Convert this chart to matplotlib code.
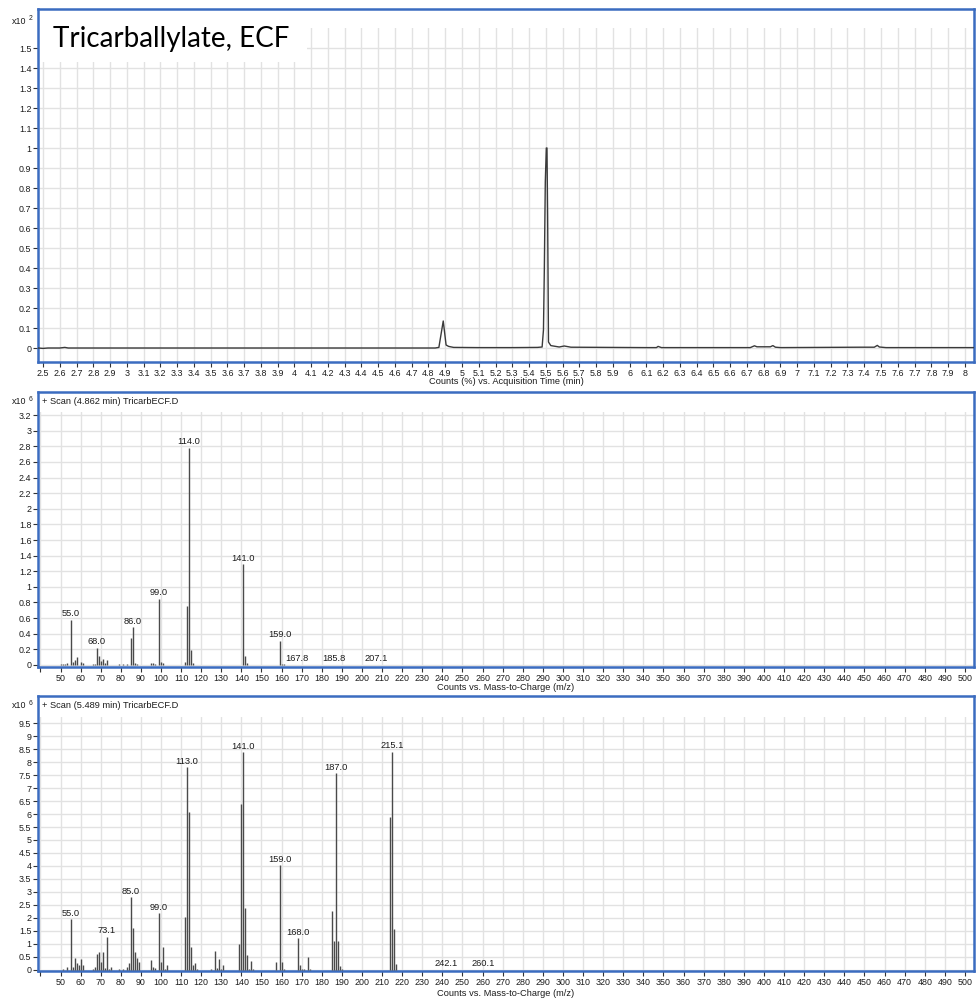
import matplotlib
matplotlib.use('Agg')
import matplotlib.pyplot as plt
from matplotlib import font_manager
from matplotlib.patches import Rectangle

# ── DATA ────────────────────────────────────────
# total ion chromatogram, counts (%) x10^2
tic_time = [2.47, 2.50, 2.53, 2.60, 2.63, 2.65, 4.84, 4.862, 4.888, 4.905,
            4.92, 4.95, 5.10, 5.30, 5.45, 5.478, 5.486, 5.491, 5.497, 5.503,
            5.507, 5.511, 5.516, 5.53, 5.58, 5.61, 5.65, 6.10, 6.16, 6.17,
            6.19, 6.72, 6.745, 6.76, 6.84, 6.855, 6.87, 6.90, 7.38, 7.46,
            7.478, 7.49, 7.53, 8.055]
tic_counts = [0.0, -0.002, 0.0, 0.0, 0.003, 0.0, 0.0, 0.003, 0.135, 0.015,
              0.008, 0.003, 0.002, 0.002, 0.003, 0.005, 0.09, 0.38, 0.83, 1.0,
              1.0, 0.65, 0.03, 0.012, 0.005, 0.01, 0.004, 0.002, 0.002, 0.008,
              0.002, 0.002, 0.011, 0.006, 0.006, 0.012, 0.004, 0.002, 0.004, 0.004,
              0.013, 0.005, 0.002, 0.002]

# scan at 4.862 min, counts x10^6
scan1_mz = [50, 51, 52, 53, 55.0, 56, 57, 58, 60, 61,
            66, 67, 68.0, 69, 70, 71, 72, 73, 79, 81,
            83, 85, 86.0, 87, 88, 95, 96, 97, 99.0, 100,
            101, 112, 113, 114.0, 115, 116, 141.0, 142, 143, 159.0,
            160, 161, 167.8, 185.8, 207.1]
scan1_counts = [0.01, 0.01, 0.01, 0.03, 0.58, 0.04, 0.07, 0.10, 0.04, 0.02,
                0.01, 0.01, 0.22, 0.12, 0.05, 0.08, 0.03, 0.07, 0.01, 0.01,
                0.01, 0.35, 0.48, 0.03, 0.01, 0.02, 0.02, 0.01, 0.85, 0.04,
                0.02, 0.04, 0.75, 2.78, 0.19, 0.02, 1.29, 0.12, 0.02, 0.31,
                0.01, 0.01, 0.005, 0.004, 0.004]
scan1_labels = [55.0, 68.0, 86.0, 99.0, 114.0, 141.0, 159.0, 167.8, 185.8, 207.1]

# scan at 5.489 min, counts x10^6
scan2_mz = [51, 53, 55.0, 56, 57, 58, 59, 60, 61, 66,
            67, 68, 69, 70, 71, 72, 73.1, 74, 75, 79,
            81, 83, 84, 85.0, 86, 87, 88, 89, 95, 96,
            97, 99.0, 100, 101, 102, 103, 112, 113.0, 114, 115,
            116, 117, 118, 125, 127.0, 128, 129, 130, 131, 139,
            140, 141.0, 142, 143, 144, 145, 146, 157, 159.0, 160,
            161, 168.0, 169, 170, 171, 173, 174, 185, 186, 187.0,
            188, 189, 190, 214, 215.1, 216, 217, 242.1, 260.1]
scan2_counts = [0.05, 0.10, 1.95, 0.10, 0.45, 0.25, 0.20, 0.41, 0.20, 0.03,
                0.10, 0.60, 0.70, 0.30, 0.68, 0.08, 1.28, 0.05, 0.10, 0.03,
                0.05, 0.10, 0.25, 2.81, 1.60, 0.68, 0.45, 0.30, 0.38, 0.10,
                0.08, 2.18, 0.30, 0.90, 0.05, 0.18, 2.05, 7.79, 6.07, 0.87,
                0.19, 0.28, 0.03, 0.02, 0.73, 0.08, 0.41, 0.05, 0.18, 1.00,
                6.39, 8.37, 2.37, 0.58, 0.05, 0.35, 0.02, 0.32, 4.04, 0.32,
                0.05, 1.22, 0.20, 0.05, 0.05, 0.51, 0.02, 2.28, 1.12, 7.57,
                1.12, 0.15, 0.02, 5.90, 8.40, 1.58, 0.23, 0.01, 0.01]
scan2_labels = [55.0, 73.1, 85.0, 99.0, 113.0, 141.0, 159.0, 168.0, 187.0,
                215.1, 242.1, 260.1]

rt_ticks = [round(2.5 + 0.1 * i, 1) for i in range(56)]
tic_yticks = [round(0.1 * i, 1) for i in range(16)]
mz_ticks = list(range(40, 510, 10))
scan1_yticks = [round(0.2 * i, 1) for i in range(17)]
scan2_yticks = [round(0.5 * i, 1) for i in range(20)]

# ── STYLE ───────────────────────────────────────
FRAME = '#3b6cc0'
GRID = '#e2e2e2'
INK = '#1c1c1c'
BAR = '#4a4a4a'

installed = {f.name for f in font_manager.fontManager.ttflist}
narrow = next((n for n in ['Liberation Sans Narrow', 'Arial Narrow', 'Liberation Sans']
               if n in installed), 'DejaVu Sans')
plt.rcParams['font.family'] = [narrow, 'DejaVu Sans']
TICK_SIZE = 7.3 if 'Narrow' in narrow else 6.4
TEXT_SIZE = TICK_SIZE + 0.3

W, H = 976, 1001
fig = plt.figure(figsize=(W / 100, H / 100), dpi=100, facecolor='white')


def px_axes(left, top, right, bottom):
    return fig.add_axes([left / W, 1 - bottom / H, (right - left) / W, (bottom - top) / H])


def fmt(v):
    return f'{v:g}'


def style(ax, xlim, ylim, xticks, yticks, grid_top, xlabeled=None):
    ax.set_xlim(*xlim)
    ax.set_ylim(*ylim)
    ax.set_xticks(xticks)
    ax.set_xticklabels([fmt(v) if (xlabeled is None or v >= xlabeled) else '' for v in xticks])
    ax.set_yticks(yticks)
    ax.set_yticklabels([fmt(v) for v in yticks])
    ax.set_axisbelow(True)
    ax.grid(True, color=GRID, lw=1.0)
    for s in ax.spines.values():
        s.set_color(FRAME)
        s.set_linewidth(1.8)
    ax.tick_params(length=3.5, width=0.8, color='#333333', pad=1.2,
                   labelsize=TICK_SIZE, labelcolor=INK)
    # empty header strip above the grid
    ax.add_patch(Rectangle((0, grid_top), 1, 1 - grid_top, transform=ax.transAxes,
                           facecolor='white', edgecolor='none', zorder=0.8))


def label_peaks(ax, mz, counts, labels):
    for m in labels:
        h = counts[mz.index(m)]
        ax.annotate(f'{m:.1f}', xy=(m, h), xytext=(0, 1), textcoords='offset points',
                    ha='center', va='bottom', fontsize=TEXT_SIZE, color=INK, zorder=4)


def multiplier(y, power):
    fig.text(12 / W, 1 - y / H, 'x10', fontsize=TICK_SIZE, color=INK, va='center')
    fig.text(29 / W, 1 - (y - 2.5) / H, power, fontsize=TICK_SIZE - 1.5, color=INK, va='center')


# ── CHROMATOGRAM ────────────────────────────────
ax_tic = px_axes(38, 9, 974, 362)
style(ax_tic, (2.47, 8.055), (-0.07, 1.695), rt_ticks, tic_yticks, (362 - 28) / 353)
ax_tic.plot(tic_time, tic_counts, color='#3a3a3a', lw=1.0, zorder=3)
ax_tic.add_patch(Rectangle((0, (362 - 62) / 353), (307 - 38) / 936, 1,
                           transform=ax_tic.transAxes, facecolor='white',
                           edgecolor='none', zorder=0.9))
fig.text(53 / W, 1 - 47 / H, 'Tricarballylate, ECF', fontsize=20,
         family=['Lato', 'DejaVu Sans'], color='black', va='baseline')
fig.text(506 / W, 1 - 382 / H, 'Counts (%) vs. Acquisition Time (min)',
         fontsize=TEXT_SIZE, color=INK, ha='center', va='center')
multiplier(21, '2')

# ── SCAN 4.862 min ──────────────────────────────
ax_s1 = px_axes(38, 392, 974, 667)
style(ax_s1, (38.8, 504.5), (-0.026, 3.495), mz_ticks, scan1_yticks, (667 - 412) / 275, 50)
ax_s1.vlines(scan1_mz, 0, scan1_counts, color=BAR, lw=1.0, zorder=3)
label_peaks(ax_s1, scan1_mz, scan1_counts, scan1_labels)
ax_s1.text(4 / 936, 1 - 10 / 275, '+ Scan (4.862 min) TricarbECF.D', transform=ax_s1.transAxes,
           fontsize=TEXT_SIZE, color=INK, va='center')
fig.text(506 / W, 1 - 688 / H, 'Counts vs. Mass-to-Charge (m/z)',
         fontsize=TEXT_SIZE, color=INK, ha='center', va='center')
multiplier(402, '6')

# ── SCAN 5.489 min ──────────────────────────────
ax_s2 = px_axes(38, 696, 974, 971)
style(ax_s2, (38.8, 504.5), (-0.04, 10.54), mz_ticks, scan2_yticks, (971 - 717) / 275, 50)
ax_s2.vlines(scan2_mz, 0, scan2_counts, color=BAR, lw=1.0, zorder=3)
label_peaks(ax_s2, scan2_mz, scan2_counts, scan2_labels)
ax_s2.text(4 / 936, 1 - 10 / 275, '+ Scan (5.489 min) TricarbECF.D', transform=ax_s2.transAxes,
           fontsize=TEXT_SIZE, color=INK, va='center')
fig.text(506 / W, 1 - 994 / H, 'Counts vs. Mass-to-Charge (m/z)',
         fontsize=TEXT_SIZE, color=INK, ha='center', va='center')
multiplier(706, '6')

fig.savefig('out.png', dpi=100, facecolor='white')
